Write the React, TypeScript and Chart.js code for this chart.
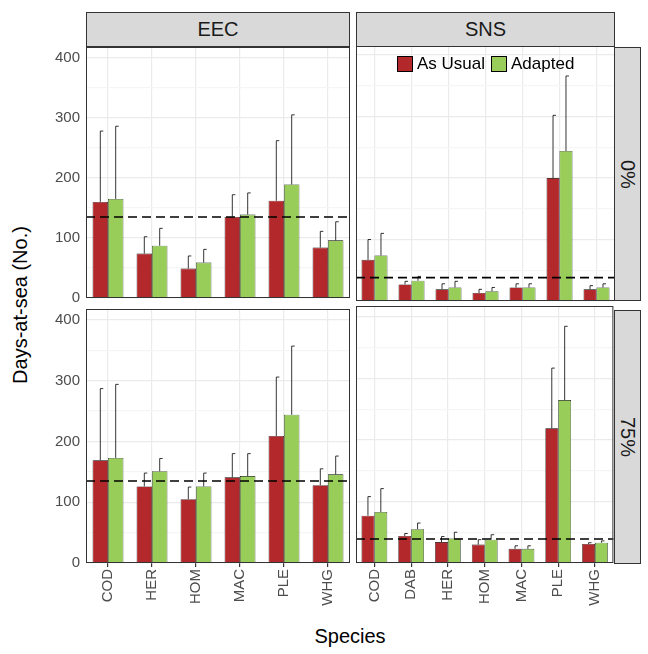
import React, { useEffect, useRef } from 'react';
import Chart from 'chart.js/auto';

const eecSpecies = ['COD', 'HER', 'HOM', 'MAC', 'PLE', 'WHG'];
const snsSpecies = ['COD', 'DAB', 'HER', 'HOM', 'MAC', 'PLE', 'WHG'];
const yTicks = [0, 50, 100, 150, 200, 250, 300, 350, 400];

const eec0Usual = [160, 74, 49, 135, 162, 84];
const eec0UsualErr = [278, 102, 70, 172, 262, 111];
const eec0Adapted = [165, 87, 59, 139, 189, 96];
const eec0AdaptedErr = [286, 116, 81, 175, 305, 127];

const sns0Usual = [67, 27, 19, 13, 22, 200, 19];
const sns0UsualErr = [100, 32, 28, 19, 28, 302, 25];
const sns0Adapted = [74, 33, 22, 16, 22, 244, 22];
const sns0AdaptedErr = [110, 40, 32, 22, 28, 366, 28];

const eec75Usual = [169, 126, 105, 141, 209, 128];
const eec75UsualErr = [287, 148, 125, 180, 306, 155];
const eec75Adapted = [173, 151, 126, 143, 244, 146];
const eec75AdaptedErr = [294, 172, 148, 180, 357, 176];

const sns75Usual = [77, 44, 34, 30, 23, 219, 31];
const sns75UsualErr = [108, 48, 43, 38, 28, 317, 33];
const sns75Adapted = [83, 55, 40, 38, 23, 265, 33];
const sns75AdaptedErr = [121, 65, 50, 46, 28, 385, 36];

const hlines = { eec0: 135, sns0: 38, eec75: 135, sns75: 39 };

const RED = '#B2282B';
const GREEN = '#98CD5A';
const FONT = 'Arial, "Liberation Sans", sans-serif';

const extras = {
  id: 'extras',
  afterDatasetsDraw(chart: any, _a: any, opts: any) {
    const ctx = chart.ctx;
    const y = chart.scales.y;
    ctx.save();
    ctx.strokeStyle = '#000';
    ctx.lineWidth = 0.8;
    chart.data.datasets.forEach((ds: any, i: number) => {
      const meta = chart.getDatasetMeta(i);
      meta.data.forEach((bar: any, j: number) => {
        const top = y.getPixelForValue(ds.errs[j]);
        ctx.beginPath();
        ctx.moveTo(bar.x, bar.y);
        ctx.lineTo(bar.x, top);
        ctx.lineTo(bar.x + 3, top);
        ctx.stroke();
      });
    });
    const a = chart.chartArea;
    const hy = y.getPixelForValue(opts.hline);
    ctx.setLineDash([9, 5]);
    ctx.lineWidth = 1.6;
    ctx.beginPath();
    ctx.moveTo(a.left, hy);
    ctx.lineTo(a.right, hy);
    ctx.stroke();
    ctx.setLineDash([]);
    ctx.strokeStyle = '#333';
    ctx.lineWidth = 1;
    ctx.strokeRect(a.left + 0.5, a.top + 0.5, a.right - a.left - 1, a.bottom - a.top - 1);
    ctx.restore();
  },
};

interface PanelProps {
  labels: string[];
  usual: number[];
  usualErr: number[];
  adapted: number[];
  adaptedErr: number[];
  hline: number;
  showY: boolean;
  showX: boolean;
  style: React.CSSProperties;
}

const Panel = ({ labels, usual, usualErr, adapted, adaptedErr, hline, showY, showX, style }: PanelProps) => {
  const canvasRef = useRef<HTMLCanvasElement | null>(null);
  useEffect(() => {
    if (!canvasRef.current) return;
    const chart = new Chart(canvasRef.current, {
      type: 'bar',
      data: {
        labels,
        datasets: [
          { label: 'As Usual', data: usual, errs: usualErr, backgroundColor: RED, borderColor: '#000', borderWidth: 0.6 } as any,
          { label: 'Adapted', data: adapted, errs: adaptedErr, backgroundColor: GREEN, borderColor: '#000', borderWidth: 0.6 } as any,
        ],
      },
      options: {
        animation: false,
        responsive: false,
        maintainAspectRatio: false,
        layout: { padding: { top: 12, bottom: 0, left: 0, right: 0 } },
        datasets: { bar: { categoryPercentage: 0.7, barPercentage: 1 } },
        plugins: { legend: { display: false }, tooltip: { enabled: false }, extras: { hline } } as any,
        scales: {
          x: {
            offset: true,
            grid: { offset: false, color: '#ebebeb', lineWidth: 1.2, drawTicks: showX, tickLength: 4, tickColor: '#333' },
            border: { display: false },
            ticks: {
              display: showX,
              maxRotation: 90,
              minRotation: 90,
              color: '#4d4d4d',
              font: { size: 15, family: FONT },
              padding: 2,
            },
            afterFit: (s: any) => { s.height = showX ? 58 : 12; },
          },
          y: {
            min: 0,
            max: 418,
            afterBuildTicks: (s: any) => { s.ticks = yTicks.map((v) => ({ value: v })); },
            grid: {
              color: (c: any) => (c.tick && c.tick.value % 100 === 0 ? '#ebebeb' : '#f5f5f5'),
              lineWidth: 1.2,
              drawTicks: false,
            },
            border: { display: false },
            ticks: {
              display: showY,
              color: '#4d4d4d',
              font: { size: 15, family: FONT },
              padding: 6,
              callback: (v: any) => (v % 100 === 0 ? v : ''),
            },
            afterFit: (s: any) => { s.width = showY ? 46 : 0; },
          },
        },
      },
      plugins: [extras],
    });
    return () => chart.destroy();
  }, []);
  const w = style.width as number;
  const h = style.height as number;
  return <canvas ref={canvasRef} width={w} height={h} style={{ position: 'absolute', ...style }} />;
};

const strip: React.CSSProperties = {
  position: 'absolute',
  background: '#d9d9d9',
  border: '1px solid #333',
  boxSizing: 'border-box',
  display: 'flex',
  alignItems: 'center',
  justifyContent: 'center',
  fontSize: 20,
  color: '#1a1a1a',
  fontFamily: FONT,
};

const legendBox = (c: string): React.CSSProperties => ({
  display: 'inline-block',
  width: 16,
  height: 16,
  background: c,
  border: '1px solid #000',
  boxSizing: 'border-box',
  marginRight: 4,
  verticalAlign: 'middle',
});

export default function App() {
  return (
    <div style={{ position: 'fixed', left: 0, top: 0, width: 648, height: 654, background: '#fff', fontFamily: FONT }}>
      <Panel labels={eecSpecies} usual={eec0Usual} usualErr={eec0UsualErr} adapted={eec0Adapted} adaptedErr={eec0AdaptedErr}
        hline={hlines.eec0} showY showX={false} style={{ left: 40, top: 32, width: 310, height: 281 }} />
      <Panel labels={snsSpecies} usual={sns0Usual} usualErr={sns0UsualErr} adapted={sns0Adapted} adaptedErr={sns0AdaptedErr}
        hline={hlines.sns0} showY={false} showX={false} style={{ left: 356, top: 32, width: 259, height: 281 }} />
      <Panel labels={eecSpecies} usual={eec75Usual} usualErr={eec75UsualErr} adapted={eec75Adapted} adaptedErr={eec75AdaptedErr}
        hline={hlines.eec75} showY showX style={{ left: 40, top: 294, width: 310, height: 327 }} />
      <Panel labels={snsSpecies} usual={sns75Usual} usualErr={sns75UsualErr} adapted={sns75Adapted} adaptedErr={sns75AdaptedErr}
        hline={hlines.sns75} showY={false} showX style={{ left: 356, top: 294, width: 259, height: 327 }} />

      <div style={{ ...strip, left: 86, top: 12, width: 264, height: 35 }}>EEC</div>
      <div style={{ ...strip, left: 356, top: 12, width: 259, height: 35 }}>SNS</div>
      <div style={{ ...strip, left: 614, top: 47, width: 27, height: 254 }}>
        <span style={{ writingMode: 'vertical-rl' }}>0%</span>
      </div>
      <div style={{ ...strip, left: 614, top: 310, width: 27, height: 254 }}>
        <span style={{ writingMode: 'vertical-rl' }}>75%</span>
      </div>

      <div style={{ position: 'absolute', left: 397, top: 53, fontSize: 17, color: '#000', whiteSpace: 'nowrap' }}>
        <span style={legendBox(RED)} /><span style={{ verticalAlign: 'middle', marginRight: 6 }}>As Usual</span>
        <span style={legendBox(GREEN)} /><span style={{ verticalAlign: 'middle' }}>Adapted</span>
      </div>

      <div style={{ position: 'absolute', left: 20, top: 305, transform: 'translate(-50%, -50%) rotate(-90deg)', fontSize: 20, whiteSpace: 'nowrap' }}>
        Days-at-sea (No.)
      </div>
      <div style={{ position: 'absolute', left: 350, top: 636, transform: 'translate(-50%, -50%)', fontSize: 20 }}>Species</div>
    </div>
  );
}
